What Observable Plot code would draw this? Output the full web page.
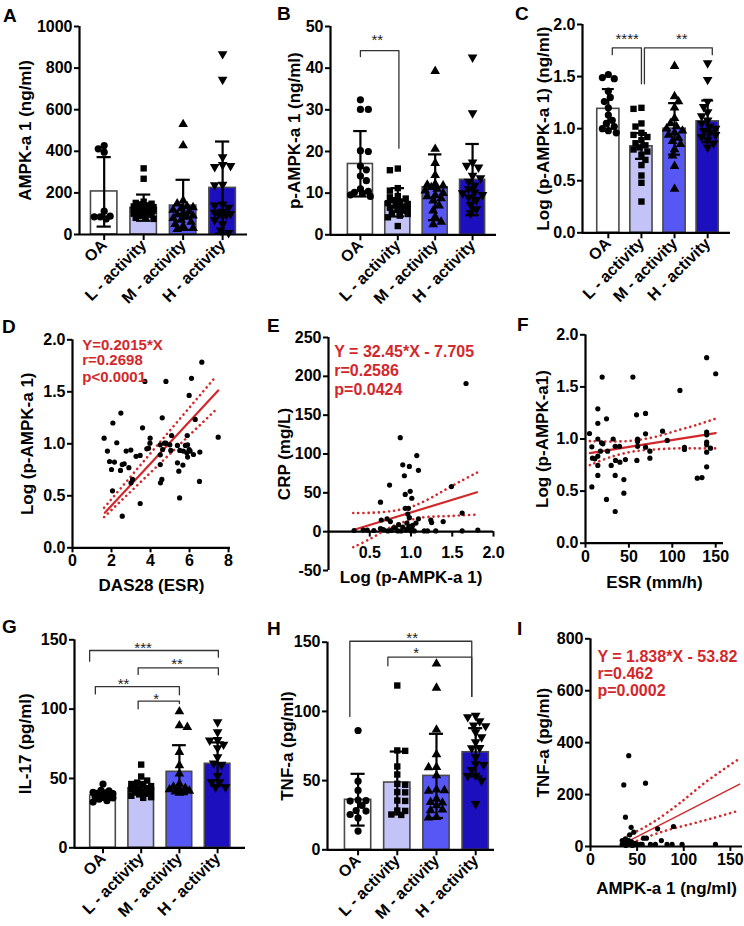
<!DOCTYPE html>
<html><head><meta charset="utf-8">
<script src="https://cdn.jsdelivr.net/npm/d3@7"></script>
<script src="https://cdn.jsdelivr.net/npm/@observablehq/plot@0.6"></script>
<style>
body{margin:0;background:#fff;}
#fig{position:relative;width:744px;height:926px;font-family:"Liberation Sans",Arial,Helvetica,sans-serif;}
.panel{position:absolute;}
.panel svg{overflow:visible;}
#letters{position:absolute;left:0;top:0;pointer-events:none;}
</style></head><body><div id="fig"></div>
<script>
// ---------- data ----------
const groupNames = ["OA", "L - activity", "M - activity", "H - activity"];
const groupFills = ["#ffffff", "#c3c3f8", "#5757f5", "#1c0fbe"];

// A: AMPK-a1 (ng/ml)
const aMean = [207, 128, 139, 224];
const aHi = [372, 192, 263, 447];
const aLo = [38, 66, 22, 5];
const aOA = [428, 412, 396, 112, 88, 85, 85, 75];
const aL = [318, 268, 158, 152, 148, 145, 140, 138, 135, 132, 128, 125, 122, 120, 118, 115, 112, 110, 105, 100, 95, 90, 85, 80, 75];
const aM = [530, 428, 163, 148, 135, 130, 125, 118, 110, 102, 96, 90, 84, 78, 70, 60, 50, 40, 30, 25];
const aH = [868, 745, 372, 335, 330, 325, 240, 238, 145, 140, 130, 110, 105, 100, 98, 95, 90, 70, 50, 20, 8];

// B: p-AMPK-a1 (ng/ml)
const bMean = [17.0, 7.8, 11.4, 13.2];
const bHi = [24.9, 11.2, 19.3, 21.8];
const bLo = [9.2, 4.4, 3.5, 4.7];
const bOA = [32.4, 30.1, 30.1, 20.2, 20.0, 16.5, 15.6, 14.1, 13.0, 11.0, 10.4, 10.2, 10.0, 9.6, 9.2];
const bL = [15.9, 15.5, 11.2, 10.6, 9.3, 9.0, 8.7, 8.3, 8.0, 7.6, 7.4, 7.0, 6.8, 6.5, 6.2, 6.0, 5.8, 5.3, 5.0, 4.6, 4.2, 2.1];
const bM = [39.3, 20.6, 17.2, 14.3, 12.2, 12.0, 11.8, 11.4, 11.0, 10.6, 10.0, 9.5, 9.2, 8.7, 8.2, 7.0, 5.8, 4.3, 3.1, 2.5];
const bH = [42.6, 29.2, 17.4, 16.6, 16.2, 14.2, 13.6, 12.8, 11.8, 11.0, 10.2, 10.0, 9.6, 9.0, 8.4, 7.2, 6.2, 5.2];

// C: Log (p-AMPK-a1)
const cMean = [1.19, 0.83, 1.0, 1.07];
const cHi = [1.38, 0.957, 1.245, 1.27];
const cLo = [1.0, 0.71, 0.75, 0.87];
const cOA = [1.52, 1.49, 1.48, 1.36, 1.30, 1.26, 1.20, 1.13, 1.08, 1.05, 1.02, 1.00, 0.98, 0.96];
const cL = [1.20, 1.19, 1.05, 1.02, 0.96, 0.94, 0.92, 0.89, 0.86, 0.84, 0.82, 0.80, 0.78, 0.75, 0.70, 0.65, 0.55, 0.48, 0.30];
const cM = [1.60, 1.31, 1.26, 1.20, 1.10, 1.05, 1.02, 1.00, 0.98, 0.96, 0.94, 0.91, 0.88, 0.85, 0.80, 0.74, 0.64, 0.42];
const cH = [1.63, 1.47, 1.26, 1.21, 1.16, 1.12, 1.08, 1.05, 1.02, 1.00, 0.98, 0.96, 0.94, 0.92, 0.89, 0.86, 0.82];

// G: IL-17 (pg/ml)
const gMean = [37.7, 43.0, 54.8, 60.6];
const gHi = [41.0, 47.5, 74.0, 76.0];
const gLo = [34.5, 38.5, 40.0, 45.0];
const gOA = [46, 41.5, 41, 40, 39.5, 39, 38.5, 38, 37, 36.5, 36, 35, 34, 33];
const gL = [60, 51.4, 48.5, 47, 46, 45, 44.5, 44, 43, 42.5, 42, 41, 40.5, 40, 39, 38.5, 37.5, 36.5, 36];
const gM = [98.3, 88.2, 87, 69, 59.4, 53.4, 46, 44, 43, 42.5, 42, 41, 40.5, 40, 39.5];
const gH = [90.6, 83.4, 77.5, 77.9, 74.5, 72, 65.4, 61, 60, 52, 47.4, 47.4, 43.8, 43.8];

// H: TNF-a (pg/ml)
const hMean = [36.1, 48.6, 53.4, 70.5];
const hHi = [54.9, 71.0, 83.8, 87.9];
const hLo = [17.5, 25.5, 23.0, 53.0];
const hOA = [86.2, 49.6, 42.9, 36, 35.6, 35.2, 32, 28.4, 28.0, 25.5, 23, 13.5];
const hL = [118.7, 71.8, 71.5, 60.2, 54.4, 47.7, 47, 41.7, 41.5, 35.6, 35.3, 28.4, 28.1, 25.5, 25.2];
const hM = [134.4, 117, 86.7, 68.9, 59.7, 59.5, 53.7, 43.5, 42.9, 42.5, 36.8, 34.4, 34, 32, 28.9, 28.5, 23.6, 23.2];
const hH = [97, 96, 93, 90, 89.5, 85, 81.4, 77.8, 73.7, 73.5, 67, 62, 61.5, 57.8, 53.7, 53.4, 50, 33.2];

// significance brackets: x1,x2 (group position), yTop, yLeft, yRight, label, labelX, labelY
const bBrackets = [{x1: 0, x2: 1.03, yTop: 44.2, yL: 42.8, yR: 20.8, label: "**", lx: 0.45, ly: 47.6}];
const cBrackets = [
  {x1: 0.12, x2: 1.0, yTop: 1.776, yL: 1.71, yR: 1.43, label: "****", lx: 0.57, ly: 1.9},
  {x1: 1.09, x2: 3.14, yTop: 1.776, yL: 1.43, yR: 1.71, label: "**", lx: 2.22, ly: 1.9}
];
const gBrackets = [
  {x1: -0.35, x2: 3.02, yTop: 142.3, yL: 134.6, yR: 137.5, label: "***", lx: 1.05, ly: 147},
  {x1: 0.92, x2: 3.02, yTop: 129.8, yL: 125, yR: 124.8, label: "**", lx: 1.94, ly: 135.6},
  {x1: -0.2, x2: 2.0, yTop: 116.3, yL: 111, yR: 110.3, label: "**", lx: 0.54, ly: 121},
  {x1: 0.92, x2: 2.0, yTop: 105.8, yL: 100.2, yR: 104, label: "*", lx: 1.39, ly: 110}
];
const hBrackets = [
  {x1: -0.21, x2: 2.9, yTop: 150.7, yL: 96.3, yR: 110.8, label: "**", lx: 1.38, ly: 156},
  {x1: 0.76, x2: 2.9, yTop: 139.2, yL: 133, yR: 110.8, label: "*", lx: 1.48, ly: 145}
];

// D: DAS28 (ESR) vs Log(p-AMPK-a1)
const dPoints = [[6.63,1.785],[6.10,1.63],[3.71,1.60],[4.79,1.60],[5.98,1.465],[6.29,1.234],[2.48,1.295],[2.07,1.20],[4.60,1.25],[3.59,1.154],[1.62,1.054],[2.27,1.01],[3.98,1.054],[4.99,0.99],[4.72,1.006],[3.97,1.006],[3.81,0.952],[3.90,0.958],[1.79,0.93],[2.75,0.93],[2.99,0.94],[3.26,0.88],[3.47,0.888],[4.50,0.99],[4.62,0.945],[4.79,1.006],[5.04,0.936],[4.50,0.894],[5.38,0.984],[5.79,0.984],[5.90,0.99],[5.98,0.945],[5.86,0.913],[6.20,0.897],[5.90,0.872],[5.68,0.93],[6.53,0.92],[5.50,0.936],[6.03,0.93],[5.88,1.08],[5.08,1.08],[1.90,0.83],[2.15,0.824],[2.65,0.808],[2.55,0.80],[2.89,0.77],[2.00,0.753],[2.46,0.744],[4.50,0.80],[5.38,0.817],[5.66,0.795],[5.45,0.737],[3.08,0.657],[3.00,0.625],[4.58,0.657],[4.51,0.625],[6.51,0.638],[2.05,0.548],[5.49,0.48],[3.47,0.426],[2.55,0.304],[7.47,1.064]];
const dFit = [[1.66,0.337],[7.47,1.513]];
const dCiU = [[1.62,0.385],[7.35,1.647]];
const dCiL = [[1.62,0.295],[7.35,1.327]];
const dStats = ["Y=0.2015*X", "r=0.2698", "p<0.0001"];

// E: Log(p-AMPK-a1) vs CRP (mg/L)
const ePoints = [[1.667,190.8],[0.87,121],[1.07,98],[0.90,86],[0.98,84],[1.09,79],[0.92,72],[0.74,60],[1.49,58],[0.99,52],[0.93,48],[1.01,43],[0.63,38],[0.93,30],[0.97,30],[0.96,22.6],[0.98,18],[0.64,15],[0.71,16.5],[1.09,16.5],[0.75,13],[1.24,15],[1.25,11.7],[1.39,13],[1.62,24],[1.06,11],[0.95,11],[0.63,4],[0.65,3],[0.67,2.5],[0.96,4],[0.98,7],[0.94,2],[0.42,2],[0.47,2],[0.31,1.5],[0.55,1.5],[0.76,1.5],[0.79,5],[0.84,1],[0.88,1],[1.0,1],[1.04,1],[1.16,1],[1.2,1],[1.3,1],[1.62,1],[1.81,2],[0.72,1],[0.81,5],[1.01,3],[0.9,6],[1.02,8],[0.85,9]];
const eFit = [[0.31,2.4],[1.8,50.7]];
const eCiU = [[0.3,24],[0.55,24.5],[0.8,27],[1.0,32],[1.12,37],[1.3,47],[1.45,56],[1.62,66],[1.8,76]];
const eCiL = [[0.3,-20],[0.51,-9],[0.72,4],[0.9,12],[1.12,18],[1.3,19.5],[1.45,20],[1.62,21],[1.8,22]];
const eStats = ["Y = 32.45*X - 7.705", "r=0.2586", "p=0.0424"];

// F: ESR (mm/h) vs Log(p-AMPK-a1)
const fPoints = [[19.2,1.594],[54.6,1.594],[139.6,1.78],[150,1.626],[108.8,1.466],[14.2,1.29],[24.2,1.194],[14.2,1.15],[58.8,1.232],[69.2,1.245],[4.6,1.053],[14.2,1.0],[7.3,0.925],[18.5,0.963],[20,0.954],[31.9,1.0],[34.2,0.93],[39.2,0.93],[60,1.0],[60,0.976],[60,0.93],[69.2,1.05],[69.2,0.922],[74.2,0.883],[88.8,1.075],[94.2,0.986],[114,0.92],[114,0.9],[139.6,1.066],[139.6,1.04],[139.6,0.97],[139.6,0.944],[139.6,0.874],[139.6,0.733],[144,0.912],[128.8,0.624],[134.2,0.63],[8,0.816],[10.8,0.81],[14.2,0.835],[17.3,0.883],[25.4,0.883],[14.2,0.746],[14.2,0.65],[29.6,0.746],[34.6,0.794],[39.6,0.778],[46,0.803],[59.2,0.794],[74.2,0.816],[7.3,0.54],[24.2,0.42],[34.2,0.65],[44.2,0.611],[44.2,0.48],[34.2,0.304]];
const fFit = [[5,0.865],[150,1.056]];
const fCiU = [[5,0.98],[30,0.975],[55,0.985],[80,1.02],[105,1.08],[130,1.14],[150,1.195]];
const fCiL = [[5,0.75],[30,0.83],[55,0.88],[80,0.9],[105,0.91],[130,0.91],[150,0.91]];

// I: AMPK-a1 (ng/ml) vs TNF-a (pg/ml)
const iPoints = [[41,350],[35.7,237],[59,244],[37.5,113],[43.6,74],[89,77],[72,68],[46.4,55],[42,45],[76,23],[57,32],[60,32],[34,23],[37.5,29.5],[41,23],[34,8],[37.5,8],[39.3,8],[42.9,8],[46.4,8],[50,8],[53.6,8],[55.4,8],[64.3,8],[69.6,8],[82.1,8],[87.5,8],[98.2,8],[134,8],[36,12],[39,15],[44,18],[48,12],[38,4],[45,4]];
const iFit = [[38,16],[160,240]];
const iCiU = [[40,42],[55,68],[70,100],[96,168],[125,252],[157,332]];
const iCiL = [[40,6],[50,22],[78,58],[107,86],[130,108],[157,136]];
const iStats = ["Y = 1.838*X - 53.82", "r=0.462", "p=0.0002"];

// ---------- drawing ----------
const FONT = '"Liberation Sans", Arial, Helvetica, sans-serif';
const RED = "#d3282b";
const fig = document.getElementById("fig");
const triDown = {draw(ctx, size) {
  const s3 = Math.sqrt(3), y = -Math.sqrt(size / (s3 * 3));
  ctx.moveTo(0, -y * 2); ctx.lineTo(-s3 * y, y); ctx.lineTo(s3 * y, y); ctx.closePath();
}};
const groupSymbols = ["circle", "square", "triangle", triDown];

function place(svg, left, top) {
  const d = document.createElement("div");
  d.className = "panel"; d.style.left = left + "px"; d.style.top = top + "px";
  d.appendChild(svg); fig.appendChild(d);
}

function swarm(vals, yPx, r, maxOff) {
  const placed = [], out = new Array(vals.length);
  const order = vals.map((v, i) => i).sort((a, b) => vals[b] - vals[a]);
  const minD = 2 * r * 0.9, step = r * 0.55;
  order.forEach((i, n) => {
    const y = yPx(vals[i]);
    let chosen = null, best = -1, bestOff = 0;
    const sgn = n % 2 ? -1 : 1;
    for (let k = 0; k * step <= maxOff; k++) {
      const cands = k === 0 ? [0] : [sgn * k * step, -sgn * k * step];
      for (const off of cands) {
        let md = Infinity;
        for (const p of placed) md = Math.min(md, Math.hypot(p.x - off, p.y - y));
        if (md >= minD) { chosen = off; break; }
        if (md > best) { best = md; bestOff = off; }
      }
      if (chosen !== null) break;
    }
    if (chosen === null) chosen = bestOff;
    placed.push({x: chosen, y}); out[i] = chosen;
  });
  return out;
}

const fmtInt = d => String(d);
const fmt1 = d => d.toFixed(1);

function axisMarks(xDom, yDom, yTicks, yFmt, yLabel, yLabelDx, yAxisAt) {
  return [
    Plot.ruleX([xDom[0]], {y1: yDom[0], y2: yDom[1], stroke: "#000", strokeWidth: 2.2}),
    Plot.ruleY([yAxisAt], {x1: xDom[0], x2: xDom[1], stroke: "#000", strokeWidth: 2.2}),
    Plot.axisY(yTicks, {tickSize: 5, tickPadding: 2, stroke: "#000", strokeWidth: 2, tickFormat: yFmt,
      fontSize: 16, fontWeight: "bold", label: null}),
    Plot.text([yLabel], {text: d => d, frameAnchor: "left", textAnchor: "middle", lineAnchor: "middle",
      rotate: -90, dx: yLabelDx, fontSize: 17, fontWeight: "bold", fill: "#000"})
  ];
}

function barPanel(c) {
  const mL = c.fx1 - c.left, mR = c.left + c.width - c.fx2, mT = c.fy1 - c.top, mB = c.top + c.height - c.fy2;
  const stepPx = (c.fx2 - c.fx1) / (c.xDom[1] - c.xDom[0]);
  const yPx = v => (c.yDom[1] - v) / (c.yDom[1] - c.yDom[0]) * (c.fy2 - c.fy1);
  const hw = 0.335, cap = 0.18, r = 3.6;
  const rows = groupNames.map((g, i) => ({i, g, mean: c.means[i], hi: c.his[i], lo: c.los[i], fill: groupFills[i]}));
  const marks = [
    Plot.rectY(rows, {x1: d => d.i - hw, x2: d => d.i + hw, y1: 0, y2: "mean", fill: "fill", stroke: "#4a4a4a", strokeWidth: 1.6})
  ];
  c.dots.forEach((vals, i) => {
    const offs = swarm(vals, yPx, r, hw * stepPx - 2);
    const data = vals.map((v, j) => ({x: i + offs[j] / stepPx, y: v}));
    marks.push(Plot.dot(data, {x: "x", y: "y", r, fill: "#000", stroke: "none", symbol: groupSymbols[i]}));
  });
  marks.push(
    Plot.ruleX(rows, {x: "i", y1: "lo", y2: "hi", stroke: "#000", strokeWidth: 2.2}),
    Plot.ruleY(rows, {y: "hi", x1: d => d.i - cap, x2: d => d.i + cap, stroke: "#000", strokeWidth: 2.2}),
    Plot.ruleY(rows, {y: "lo", x1: d => d.i - cap, x2: d => d.i + cap, stroke: "#000", strokeWidth: 2.2})
  );
  if (c.brackets) {
    const segs = c.brackets.flatMap((b, k) => [
      {k, x: b.x1, y: b.yL}, {k, x: b.x1, y: b.yTop}, {k, x: b.x2, y: b.yTop}, {k, x: b.x2, y: b.yR}]);
    marks.push(Plot.line(segs, {x: "x", y: "y", z: "k", stroke: "#333", strokeWidth: 1.3}));
    marks.push(Plot.text(c.brackets, {x: "lx", y: "ly", text: "label", dy: 4, fontSize: 15, fontWeight: "normal", fill: "#222"}));
  }
  marks.push(...axisMarks(c.xDom, c.yDom, c.yTicks, c.yFmt, c.yLabel, c.yLabelDx, c.yDom[0]));
  marks.push(Plot.axisX([0, 1, 2, 3], {tickFormat: i => groupNames[i], tickRotate: -45, tickSize: 6, tickPadding: 2,
    stroke: "#000", strokeWidth: 2, fontSize: 16, fontWeight: "bold", label: null}));
  const svg = Plot.plot({
    width: c.width, height: c.height, marginLeft: mL, marginRight: mR, marginTop: mT, marginBottom: mB,
    x: {type: "linear", domain: c.xDom, axis: null}, y: {domain: c.yDom, axis: null},
    color: {type: "identity"},
    style: {fontFamily: FONT, fontSize: "16px", fontWeight: "bold", color: "#000", background: "transparent", overflow: "visible"},
    marks
  });
  place(svg, c.left, c.top);
}

function scatterPanel(c) {
  const mL = c.fx1 - c.left, mR = c.left + c.width - c.fx2, mT = c.fy1 - c.top, mB = c.top + c.height - c.fy2;
  const pts = c.points.map(([x, y]) => ({x, y}));
  const line = a => a.map(([x, y]) => ({x, y}));
  const marks = [];
  marks.push(...axisMarks(c.xDom, c.yDom, c.yTicks, c.yFmt, c.yLabel, c.yLabelDx, c.xAxisAt));
  if (c.xAxisAt === c.yDom[0]) {
    marks.push(Plot.axisX(c.xTicks, {tickSize: 5, tickPadding: 2, stroke: "#000", strokeWidth: 2, tickFormat: c.xFmt,
      fontSize: 16, fontWeight: "bold", label: null}));
  } else {
    marks.push(Plot.ruleX(c.xTicks, {x: d => d, y1: c.xAxisAt, y2: c.xAxisAt - c.tickLen, stroke: "#000", strokeWidth: 2}));
    marks.push(Plot.text(c.xTicks, {x: d => d, y: c.xAxisAt, dy: c.xTickDy, text: c.xFmt, fontSize: 16, fontWeight: "bold", fill: "#000"}));
  }
  marks.push(Plot.text([c.xLabel], {text: d => d, frameAnchor: "bottom", textAnchor: "middle", dy: c.xLabelDy, fontSize: 17, fontWeight: "bold", fill: "#000"}));
  const dash = {stroke: RED, strokeWidth: 2.6, strokeDasharray: "0.1 5", strokeLinecap: "round", curve: "catmull-rom"};
  marks.push(Plot.line(line(c.ciU), {x: "x", y: "y", ...dash}));
  marks.push(Plot.line(line(c.ciL), {x: "x", y: "y", ...dash}));
  marks.push(Plot.line(line(c.fit), {x: "x", y: "y", stroke: RED, strokeWidth: c.fitWidth}));
  marks.push(Plot.dot(pts, {x: "x", y: "y", r: 2.6, fill: "#000", stroke: "none"}));
  if (c.stats) {
    const st = c.stats.map((t, k) => ({t, y: c.statsY[k]}));
    marks.push(Plot.text(st, {x: () => c.statsX, y: "y", text: "t", textAnchor: "start", fill: RED,
      fontSize: c.statsSize, fontWeight: "bold"}));
  }
  const svg = Plot.plot({
    width: c.width, height: c.height, marginLeft: mL, marginRight: mR, marginTop: mT, marginBottom: mB,
    x: {domain: c.xDom, axis: null}, y: {domain: c.yDom, axis: null},
    style: {fontFamily: FONT, fontSize: "16px", fontWeight: "bold", color: "#000", background: "transparent", overflow: "visible"},
    marks
  });
  place(svg, c.left, c.top);
}

// Row 1
barPanel({left: 0, top: 0, width: 250, height: 300, fx1: 79, fx2: 247, fy1: 26, fy2: 234,
  xDom: [-0.625, 3.63], yDom: [0, 1000], yTicks: [0, 200, 400, 600, 800, 1000], yFmt: fmtInt,
  yLabel: "AMPK-a 1 (ng/ml)", yLabelDx: -54,
  means: aMean, his: aHi, los: aLo, dots: [aOA, aL, aM, aH]});
barPanel({left: 245, top: 0, width: 252, height: 300, fx1: 330, fx2: 496, fy1: 26, fy2: 234.3,
  xDom: [-0.8, 3.64], yDom: [0, 50], yTicks: [0, 10, 20, 30, 40, 50], yFmt: fmtInt,
  yLabel: "p-AMPK-a 1 (ng/ml)", yLabelDx: -36,
  means: bMean, his: bHi, los: bLo, dots: [bOA, bL, bM, bH], brackets: bBrackets});
barPanel({left: 490, top: 0, width: 254, height: 300, fx1: 582, fx2: 730, fy1: 24, fy2: 232.3,
  xDom: [-0.78, 3.69], yDom: [0, 2], yTicks: [0, 0.5, 1, 1.5, 2], yFmt: fmt1,
  yLabel: "Log (p-AMPK-a 1) (ng/ml)", yLabelDx: -39,
  means: cMean, his: cHi, los: cLo, dots: [cOA, cL, cM, cH], brackets: cBrackets});

// Row 2
scatterPanel({left: 0, top: 305, width: 245, height: 300, fx1: 72, fx2: 230, fy1: 339.3, fy2: 547.3,
  xDom: [0, 8.1], yDom: [0, 2], xTicks: [0, 2, 4, 6, 8], yTicks: [0, 0.5, 1, 1.5, 2], xFmt: fmtInt, yFmt: fmt1,
  xAxisAt: 0, xLabel: "DAS28 (ESR)", xLabelDy: 43, yLabel: "Log (p-AMPK-a 1)", yLabelDx: -45,
  points: dPoints, fit: dFit, ciU: dCiU, ciL: dCiL, fitWidth: 2.2,
  stats: dStats, statsX: 0.5, statsY: [1.95, 1.80, 1.645], statsSize: 15});
scatterPanel({left: 245, top: 305, width: 255, height: 300, fx1: 328, fx2: 493, fy1: 337, fy2: 570,
  xDom: [0, 2], yDom: [-50, 250], xTicks: [0.5, 1, 1.5, 2], yTicks: [-50, 0, 50, 100, 150, 200, 250], xFmt: fmt1, yFmt: fmtInt,
  xAxisAt: 0, tickLen: 7, xTickDy: 21, xLabel: "Log (p-AMPK-a 1)", xLabelDy: 12, yLabel: "CRP (mg/L)", yLabelDx: -44,
  points: ePoints, fit: eFit, ciU: eCiU, ciL: eCiL, fitWidth: 2.2,
  stats: eStats, statsX: 0.07, statsY: [232, 207, 183], statsSize: 16});
scatterPanel({left: 490, top: 305, width: 254, height: 300, fx1: 585, fx2: 723, fy1: 334.3, fy2: 542.7,
  xDom: [0, 159], yDom: [0, 2], xTicks: [0, 50, 100, 150], yTicks: [0, 0.5, 1, 1.5, 2], xFmt: fmtInt, yFmt: fmt1,
  xAxisAt: 0, xLabel: "ESR (mm/h)", xLabelDy: 45, yLabel: "Log (p-AMPK-a1)", yLabelDx: -43,
  points: fPoints, fit: fFit, ciU: fCiU, ciL: fCiL, fitWidth: 2.2});

// Row 3
barPanel({left: 0, top: 610, width: 250, height: 316, fx1: 74, fx2: 245, fy1: 639.3, fy2: 847.3,
  xDom: [-0.746, 3.73], yDom: [0, 150], yTicks: [0, 50, 100, 150], yFmt: fmtInt,
  yLabel: "IL-17 (pg/ml)", yLabelDx: -49,
  means: gMean, his: gHi, los: gLo, dots: [gOA, gL, gM, gH], brackets: gBrackets});
barPanel({left: 245, top: 610, width: 250, height: 316, fx1: 327, fx2: 494, fy1: 641.7, fy2: 849.3,
  xDom: [-0.78, 3.48], yDom: [0, 150], yTicks: [0, 50, 100, 150], yFmt: fmtInt,
  yLabel: "TNF-a (pg/ml)", yLabelDx: -40,
  means: hMean, his: hHi, los: hLo, dots: [hOA, hL, hM, hH], brackets: hBrackets});
scatterPanel({left: 490, top: 610, width: 254, height: 316, fx1: 590, fx2: 742, fy1: 638.3, fy2: 846,
  xDom: [0, 163], yDom: [0, 800], xTicks: [0, 50, 100, 150], yTicks: [0, 200, 400, 600, 800], xFmt: fmtInt, yFmt: fmtInt,
  xAxisAt: 0, xLabel: "AMPK-a 1 (ng/ml)", xLabelDy: 47, yLabel: "TNF-a (pg/ml)", yLabelDx: -47,
  points: iPoints, fit: iFit, ciU: iCiU, ciL: iCiL, fitWidth: 1.4,
  stats: iStats, statsX: 7.5, statsY: [731, 665, 600], statsSize: 16});

// panel letters
const letters = [["A", 3, 22], ["B", 277, 20], ["C", 515, 20], ["D", 2, 333], ["E", 267, 332], ["F", 517, 331], ["G", 2, 633], ["H", 267, 635], ["I", 517, 635]];
const ns = "http://www.w3.org/2000/svg";
const ov = document.createElementNS(ns, "svg");
ov.setAttribute("id", "letters"); ov.setAttribute("width", 744); ov.setAttribute("height", 926);
letters.forEach(([t, x, y]) => {
  const e = document.createElementNS(ns, "text");
  e.setAttribute("x", x); e.setAttribute("y", y);
  e.setAttribute("font-family", FONT); e.setAttribute("font-size", 19); e.setAttribute("font-weight", "bold");
  e.textContent = t; ov.appendChild(e);
});
fig.appendChild(ov);
</script></body></html>
